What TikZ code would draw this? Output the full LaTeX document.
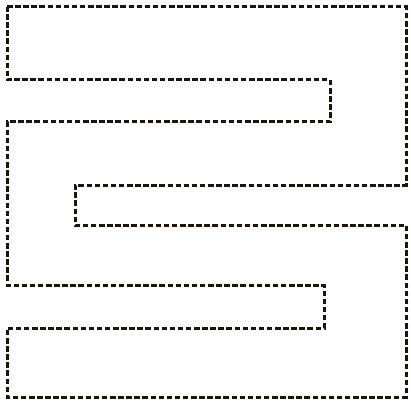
\documentclass[tikz,border=0pt]{standalone}
\begin{document}
\begin{tikzpicture}[x=1pt,y=-1pt,
  outline/.style={draw=black!85!brown, line width=3pt, dash pattern=on 5.5pt off 2.6pt}]
\useasboundingbox (0,0) rectangle (411,406);
\fill[white] (0,0) rectangle (411,406);
\coordinate (p1) at (7,7);
\coordinate (p2) at (406,7);
\coordinate (p3) at (406,185);
\coordinate (p4) at (75,185);
\coordinate (p5) at (75,225);
\coordinate (p6) at (406,225);
\coordinate (p7) at (406,397);
\coordinate (p8) at (7,397);
\coordinate (p9) at (7,328);
\coordinate (p10) at (324,328);
\coordinate (p11) at (324,285);
\coordinate (p12) at (7,285);
\coordinate (p13) at (7,122);
\coordinate (p14) at (330,122);
\coordinate (p15) at (330,80);
\coordinate (p16) at (7,80);
\draw[outline] (p1) -- (p2) -- (p3) -- (p4) -- (p5) -- (p6) -- (p7) -- (p8) -- (p9) -- (p10) -- (p11) -- (p12) -- (p13) -- (p14) -- (p15) -- (p16) -- cycle;
\end{tikzpicture}
\end{document}
